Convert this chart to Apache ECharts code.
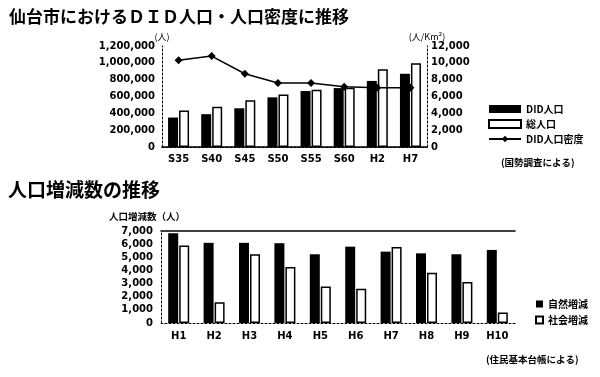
<!DOCTYPE html>
<html>
<head>
<meta charset="utf-8">
<script src="https://cdn.jsdelivr.net/npm/echarts@6/dist/echarts.min.js"></script>
<style>
 html, body { margin: 0; padding: 0; background: #fff; }
 #main { width: 600px; height: 377px; }
</style>
</head>
<body>
<div id="main"></div>
<script>
 // 上段：DID人口・総人口・DID人口密度
 var years1 = ['S35', 'S40', 'S45', 'S50', 'S55', 'S60', 'H2', 'H7'];
 var didPop = [350000, 390000, 460000, 590000, 665000, 700000, 785000, 870000];
 var totalPop = [435000, 478000, 555000, 625000, 680000, 705000, 925000, 995000];
 var didDensity = [10300, 10800, 8700, 7600, 7600, 7150, 7050, 7050];

 // 下段：人口増減数
 var years2 = ['H1', 'H2', 'H3', 'H4', 'H5', 'H6', 'H7', 'H8', 'H9', 'H10'];
 var naturalChg = [6830, 6100, 6100, 6070, 5230, 5810, 5430, 5300, 5230, 5560];
 var socialChg = [5890, 1570, 5230, 4260, 2770, 2610, 5790, 3830, 3120, 790];

 var FONT = 'DejaVu Sans';
 var JP = 'Noto Sans CJK JP';
 var lbl = { color: '#000', fontFamily: FONT, fontWeight: 'bold', fontSize: 10 };
 var dotLine = { show: true, lineStyle: { color: '#000', width: 1, type: [2, 2] } };
 var solidLine = { show: true, lineStyle: { color: '#000', width: 1.5 } };

 function fmt(v) {
	return v.toString().replace(/\B(?=(\d{3})+(?!\d))/g, ',');
 }

 var myChart = echarts.init(document.getElementById('main'));
 var option = {
	backgroundColor: '#fff',
	animation: false,
	title: [
		{ text: '仙台市におけるＤＩＤ人口・人口密度に推移', left: 4, top: 3,
		  textStyle: { fontFamily: JP, fontSize: 17, fontWeight: 'bold', color: '#000' } },
		{ text: '(国勢調査による)', left: 496, top: 153,
		  textStyle: { fontFamily: JP, fontSize: 9.5, fontWeight: 'bold', color: '#000' } },
		{ text: '人口増減数の推移', left: 3, top: 175,
		  textStyle: { fontFamily: JP, fontSize: 19, fontWeight: 'bold', color: '#000' } },
		{ text: '人口増減数（人）', left: 104, top: 207,
		  textStyle: { fontFamily: JP, fontSize: 9.5, fontWeight: 'bold', color: '#000' } },
		{ text: '(住民基本台帳による)', left: 481, top: 350,
		  textStyle: { fontFamily: JP, fontSize: 9.5, fontWeight: 'bold', color: '#000' } }
	],
	legend: [
		{
			orient: 'vertical', left: 483, top: 99, itemWidth: 32, itemHeight: 8, itemGap: 5,
			textStyle: { fontFamily: JP, fontSize: 10, fontWeight: 'bold', color: '#000' },
			data: [{ name: 'DID人口', icon: 'rect' }, { name: '総人口', icon: 'rect' }, { name: 'DID人口密度' }]
		},
		{
			orient: 'vertical', left: 530, top: 294, itemWidth: 7, itemHeight: 7, itemGap: 6,
			textStyle: { fontFamily: JP, fontSize: 10, fontWeight: 'bold', color: '#000' },
			data: [{ name: '自然増減', icon: 'rect' }, { name: '社会増減', icon: 'rect' }]
		}
	],
	grid: [
		{ left: 162, right: 173, top: 46, bottom: 230 },
		{ left: 161, right: 85, top: 231, bottom: 54 }
	],
	xAxis: [
		{ type: 'category', gridIndex: 0, data: years1, axisLine: dotLine, axisTick: { show: false },
		  axisLabel: Object.assign({ margin: 7 }, lbl) },
		{ type: 'category', gridIndex: 0, position: 'top', data: years1, axisLine: solidLine,
		  axisTick: { show: false }, axisLabel: { show: false } },
		{ type: 'category', gridIndex: 1, data: years2, axisLine: dotLine, axisTick: { show: false },
		  axisLabel: Object.assign({ margin: 8 }, lbl) },
		{ type: 'category', gridIndex: 1, position: 'top', data: years2, axisLine: solidLine,
		  axisTick: { show: false }, axisLabel: { show: false } }
	],
	yAxis: [
		{ type: 'value', gridIndex: 0, min: 0, max: 1200000, interval: 200000,
		  name: '(人)', nameGap: 4, nameTextStyle: { fontFamily: JP, fontSize: 9, color: '#000', align: 'center' },
		  axisLine: dotLine, axisTick: { show: false }, splitLine: { show: false },
		  axisLabel: Object.assign({ margin: 7, formatter: fmt }, lbl) },
		{ type: 'value', gridIndex: 0, position: 'right', min: 0, max: 12000, interval: 2000,
		  name: '(人/Km²)', nameGap: 4, nameTextStyle: { fontFamily: JP, fontSize: 9, color: '#000' },
		  axisLine: dotLine, axisTick: { show: false }, splitLine: { show: false },
		  axisLabel: Object.assign({ margin: 4, formatter: fmt }, lbl) },
		{ type: 'value', gridIndex: 1, min: 0, max: 7000, interval: 1000,
		  axisLine: dotLine, axisTick: { show: false }, splitLine: { show: false },
		  axisLabel: Object.assign({ margin: 8, formatter: fmt }, lbl) }
	],
	series: [
		{ name: 'DID人口', type: 'bar', xAxisIndex: 0, yAxisIndex: 0, data: didPop,
		  barWidth: 10, barGap: '10%', itemStyle: { color: '#000' } },
		{ name: '総人口', type: 'bar', xAxisIndex: 0, yAxisIndex: 0, data: totalPop,
		  barWidth: 10, barGap: '10%', itemStyle: { color: '#fff', borderColor: '#000', borderWidth: 1.5 } },
		{ name: 'DID人口密度', type: 'line', xAxisIndex: 0, yAxisIndex: 1, data: didDensity,
		  symbol: 'diamond', symbolSize: 8, lineStyle: { color: '#000', width: 1.5 },
		  itemStyle: { color: '#000' }, z: 5 },
		{ name: '自然増減', type: 'bar', xAxisIndex: 2, yAxisIndex: 2, data: naturalChg,
		  barWidth: 10, barGap: '10%', itemStyle: { color: '#000' } },
		{ name: '社会増減', type: 'bar', xAxisIndex: 2, yAxisIndex: 2, data: socialChg,
		  barWidth: 10, barGap: '10%', itemStyle: { color: '#fff', borderColor: '#000', borderWidth: 1.5 } }
	]
 };
 myChart.setOption(option);
</script>
</body>
</html>
